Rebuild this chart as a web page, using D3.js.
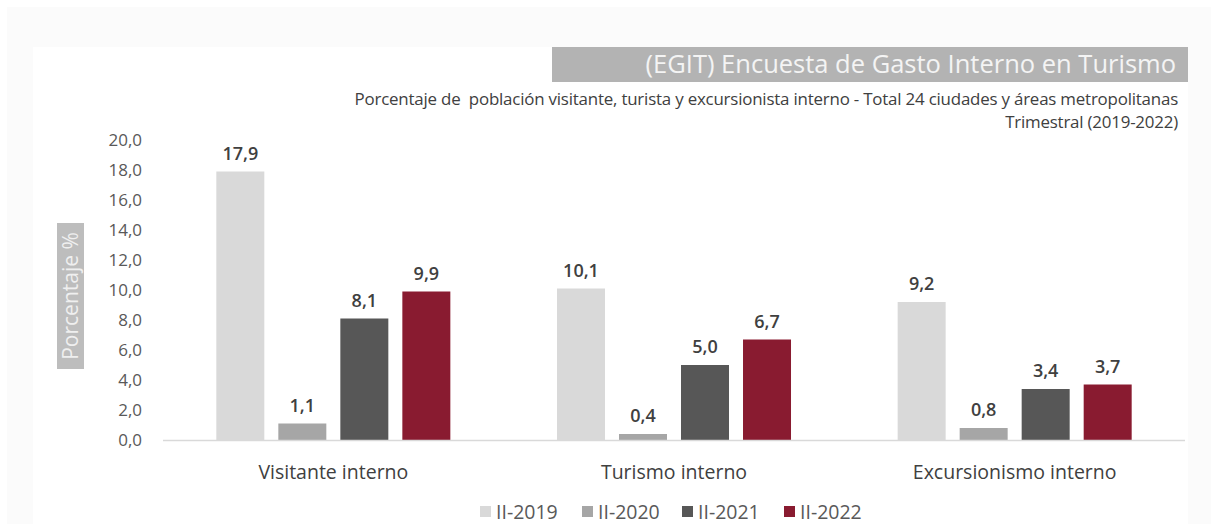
<!DOCTYPE html>
<html>
<head>
<meta charset="utf-8">
<script src="https://cdn.jsdelivr.net/npm/d3@7"></script>
<style>
  html, body { margin: 0; padding: 0; background: #ffffff; }
  svg { display: block; }
  .tick-label { font-family: "Open Sans", sans-serif; font-size: 17px; fill: #595959; }
  .cat-label { font-family: "Open Sans", sans-serif; font-size: 19.5px; fill: #404040; }
  .value-label { font-family: "Open Sans", sans-serif; font-size: 18px; font-weight: 600; fill: #404040; }
  .legend-label { font-family: "Open Sans", sans-serif; font-size: 19.5px; fill: #595959; }
  .title { font-family: "Open Sans", sans-serif; font-size: 25.5px; fill: #f4f4f4; }
  .subtitle { font-family: "Open Sans", sans-serif; font-size: 16.9px; fill: #404040; letter-spacing: -0.2px; }
  .y-title { font-family: "Open Sans", sans-serif; font-size: 21px; fill: #efefef; }
</style>
</head>
<body>
<div id="chart"></div>
<script>
const WIDTH = 1218;
const HEIGHT = 524;

const categories = ["Visitante interno", "Turismo interno", "Excursionismo interno"];
const periods = ["II-2019", "II-2020", "II-2021", "II-2022"];
const colors = ["#d9d9d9", "#a6a6a6", "#575757", "#891b30"];

// values per period, in category order
const values2019 = [17.9, 10.1, 9.2];
const values2020 = [1.1, 0.4, 0.8];
const values2021 = [8.1, 5.0, 3.4];
const values2022 = [9.9, 6.7, 3.7];

const yTicks = [0, 2, 4, 6, 8, 10, 12, 14, 16, 18, 20];

const titleText = "(EGIT) Encuesta de Gasto Interno en Turismo";
const subtitleText = "Porcentaje de  población visitante, turista y excursionista interno - Total 24 ciudades y áreas metropolitanas";
const periodText = "Trimestral (2019-2022)";
const yTitleText = "Porcentaje %";

const seriesValues = [values2019, values2020, values2021, values2022];
const rows = [];
categories.forEach((cat, ci) => {
  periods.forEach((p, pi) => {
    rows.push({ category: cat, period: p, value: seriesValues[pi][ci] });
  });
});

const MARGIN = { top: 140, right: 33, bottom: 84, left: 163 };
const plotRight = WIDTH - MARGIN.right;
const plotBottom = HEIGHT - MARGIN.bottom;

const fmt = (v) => d3.format(".1f")(v).replace(".", ",");

const svg = d3.select("#chart")
  .append("svg")
  .attr("width", WIDTH)
  .attr("height", HEIGHT);

// faint frame like the source image
svg.append("rect")
  .attr("x", 7).attr("y", 7)
  .attr("width", WIDTH - 14).attr("height", HEIGHT - 7)
  .attr("fill", "#fbfbfb");
svg.append("rect")
  .attr("x", 33).attr("y", 47)
  .attr("width", 1155).attr("height", HEIGHT - 47)
  .attr("fill", "#ffffff");

const x0 = d3.scaleBand()
  .domain(categories)
  .range([MARGIN.left, plotRight])
  .paddingInner(0)
  .paddingOuter(0);

const x1 = d3.scaleBand()
  .domain(periods)
  .range([0, x0.bandwidth()])
  .paddingInner(0.226)
  .paddingOuter(0.86);

const y = d3.scaleLinear()
  .domain([0, 20])
  .range([plotBottom, MARGIN.top]);

const color = d3.scaleOrdinal().domain(periods).range(colors);

// —— Title block ——
svg.append("rect")
  .attr("x", 552).attr("y", 47)
  .attr("width", 636).attr("height", 35)
  .attr("fill", "#b3b3b3");

svg.append("text")
  .attr("class", "title")
  .attr("x", 1176).attr("y", 73)
  .attr("text-anchor", "end")
  .text(titleText);

svg.append("text")
  .attr("class", "subtitle")
  .attr("x", 1178).attr("y", 105)
  .attr("text-anchor", "end")
  .style("white-space", "pre")
  .text(subtitleText);

svg.append("text")
  .attr("class", "subtitle")
  .attr("x", 1178).attr("y", 128)
  .attr("text-anchor", "end")
  .text(periodText);

// —— Y axis (labels only) ——
const yAxis = svg.append("g")
  .attr("transform", `translate(${MARGIN.left - 21},0)`)
  .call(d3.axisLeft(y).tickValues(yTicks).tickFormat(fmt).tickSize(0).tickPadding(0));
yAxis.select(".domain").remove();
yAxis.selectAll("text").attr("class", "tick-label").attr("fill", null);

// y title box
const yTitle = svg.append("g").attr("transform", "translate(71,296) rotate(-90)");
yTitle.append("rect")
  .attr("x", -73).attr("y", -14)
  .attr("width", 146).attr("height", 27)
  .attr("fill", "#bdbdbd");
yTitle.append("text")
  .attr("class", "y-title")
  .attr("text-anchor", "middle")
  .attr("dy", "0.35em")
  .text(yTitleText);

// —— Bars ——
const groups = svg.append("g")
  .selectAll("g")
  .data(categories)
  .join("g")
  .attr("transform", (d) => `translate(${x0(d)},0)`);

groups.selectAll("rect")
  .data((c) => rows.filter((r) => r.category === c))
  .join("rect")
  .attr("x", (d) => x1(d.period))
  .attr("y", (d) => y(d.value))
  .attr("width", x1.bandwidth())
  .attr("height", (d) => y(0) - y(d.value))
  .attr("fill", (d) => color(d.period));

groups.selectAll("text")
  .data((c) => rows.filter((r) => r.category === c))
  .join("text")
  .attr("class", "value-label")
  .attr("x", (d) => x1(d.period) + x1.bandwidth() / 2)
  .attr("y", (d) => y(d.value) - 12)
  .attr("text-anchor", "middle")
  .text((d) => fmt(d.value));

// baseline
svg.append("line")
  .attr("x1", MARGIN.left).attr("x2", plotRight)
  .attr("y1", y(0) + 0.5).attr("y2", y(0) + 0.5)
  .attr("stroke", "#d9d9d9")
  .attr("stroke-width", 1.5);

// category labels
const xAxis = svg.append("g")
  .attr("transform", `translate(0,${y(0)})`)
  .call(d3.axisBottom(x0).tickSize(0).tickPadding(0));
xAxis.select(".domain").remove();
xAxis.selectAll("text")
  .attr("class", "cat-label")
  .attr("fill", null)
  .attr("dy", null)
  .attr("y", 39);

// —— Legend ——
const legendX = [480, 582, 682, 784];
const legend = svg.append("g")
  .selectAll("g")
  .data(periods)
  .join("g")
  .attr("transform", (d, i) => `translate(${legendX[i]},506)`);

legend.append("rect")
  .attr("width", 11).attr("height", 11)
  .attr("fill", (d) => color(d));

legend.append("text")
  .attr("class", "legend-label")
  .attr("x", 16)
  .attr("y", 12.5)
  .text((d) => d);
</script>
</body>
</html>
